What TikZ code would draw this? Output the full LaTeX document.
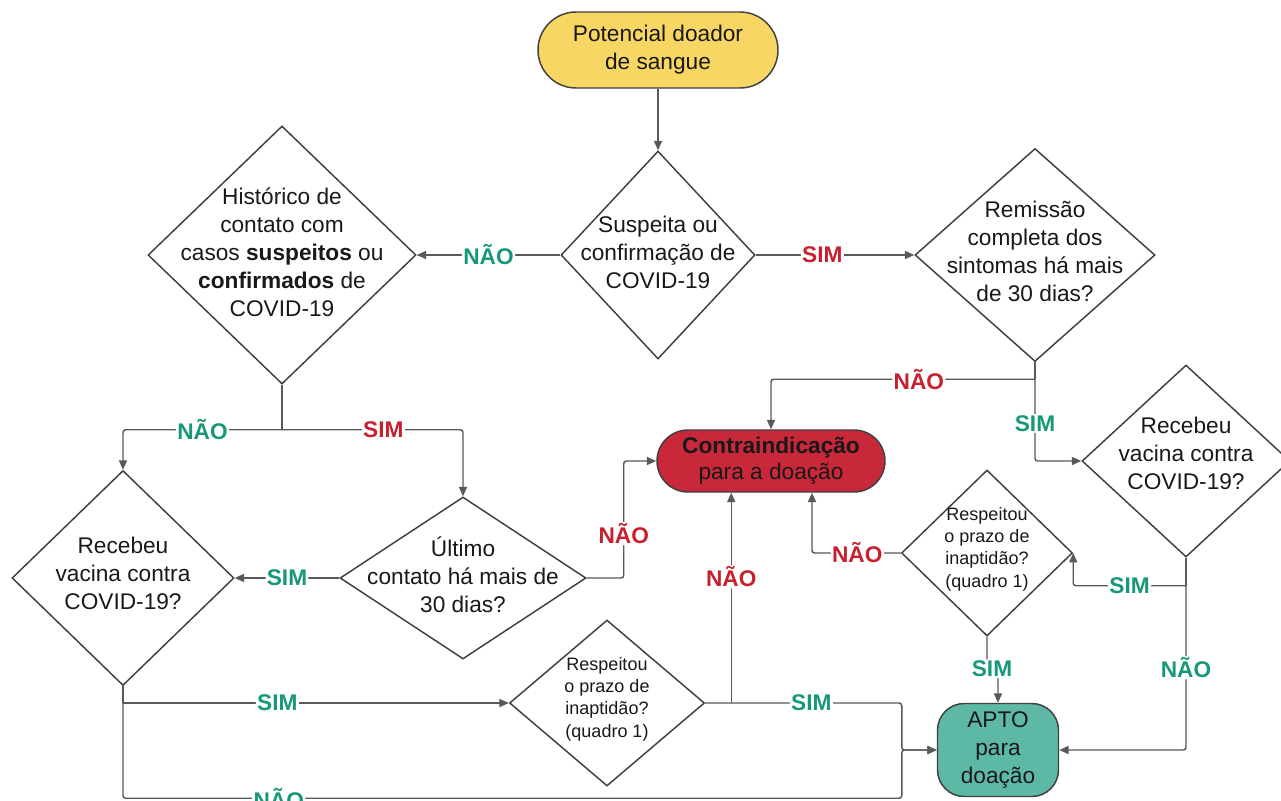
\documentclass[tikz,border=0pt]{standalone}
\usepackage{fontspec}
\setmainfont{Liberation Sans}
\usetikzlibrary{shapes.geometric,arrows.meta,calc}
\definecolor{lc}{HTML}{595959}
\definecolor{bc}{HTML}{404040}
\definecolor{yelf}{HTML}{F8D664}
\definecolor{redf}{HTML}{C8283A}
\definecolor{tealf}{HTML}{5DB9A6}
\definecolor{gtxt}{HTML}{17987A}
\definecolor{rtxt}{HTML}{C8202E}
\begin{document}
\begin{tikzpicture}[x=0.75pt,y=-0.75pt,
  txt/.style={font=\fontsize{17}{21}\selectfont, align=center, text=black!90},
  smalltxt/.style={font=\fontsize{13.5}{16.8}\selectfont, align=center, text=black!90},
  dia/.style={diamond, draw=bc, line width=1.1pt, inner sep=0pt, fill=white},
  term/.style={rectangle, draw=bc, line width=1.1pt, align=center, inner sep=0pt, text=black!90},
  arr/.style={draw=lc, line width=1.1pt, -{Triangle[length=7pt,width=6pt]}, rounded corners=2pt},
  ln/.style={draw=lc, line width=1.1pt, rounded corners=2pt},
  lg/.style={font=\bfseries\fontsize{17}{20}\selectfont, text=gtxt, fill=white, inner sep=1pt},
  lr/.style={font=\bfseries\fontsize{17}{20}\selectfont, text=rtxt, fill=white, inner sep=1pt}]
\useasboundingbox (0,0) rectangle (1281,800);
\fill[white] (0,0) rectangle (1281,800);

% nodes
\node[term, fill=yelf, minimum width=180pt, minimum height=57pt, rounded corners=28.5pt,
      font=\fontsize{17}{21}\selectfont] (start) at (658,50) {Potencial doador\\de sangue};

\node[dia, minimum width=145.5pt, minimum height=156pt] (d1) at (658,255) {};
\node[txt] (d1t) at (658,252) {Suspeita ou\\confirmação de\\COVID-19};

\node[dia, minimum width=201pt, minimum height=193.5pt] (d2) at (282,255) {};
\node[txt] (d2t) at (282,252) {Histórico de\\contato com\\casos \textbf{suspeitos} ou\\\textbf{confirmados} de\\COVID-19};

\node[dia, minimum width=180pt, minimum height=159.75pt] (d3) at (1035,255) {};
\node[txt] (d3t) at (1035,251) {Remissão\\completa dos\\sintomas há mais\\de 30 dias?};

\node[term, fill=redf, minimum width=171pt, minimum height=46.5pt, rounded corners=23.25pt,
      font=\fontsize{17}{19.5}\selectfont] (contra) at (771,461) {\textbf{Contraindicação}\\para a doação};

\node[dia, minimum width=166.5pt, minimum height=161.25pt] (d4) at (123,578) {};
\node[txt] (d4t) at (123,573) {Recebeu\\vacina contra\\COVID-19?};

\node[dia, minimum width=184.5pt, minimum height=121.5pt] (d5) at (463,578) {};
\node[txt] (d5t) at (463,575) {Último\\contato há mais de\\30 dias?};

\node[dia, minimum width=146.25pt, minimum height=124.5pt] (d6) at (607,703) {};
\node[smalltxt] (d6t) at (607,699) {Respeitou\\o prazo de\\inaptidão?\\(quadro 1)};

\node[dia, minimum width=156pt, minimum height=144pt] (d7) at (1186,461) {};
\node[txt] (d7t) at (1186,453) {Recebeu\\vacina contra\\COVID-19?};

\node[dia, minimum width=128.25pt, minimum height=124.5pt] (d8) at (987,553) {};
\node[smalltxt] (d8t) at (987,549) {Respeitou\\o prazo de\\inaptidão?\\(quadro 1)};

\node[term, fill=tealf, minimum width=90.75pt, minimum height=69.75pt, rounded corners=20pt,
      font=\fontsize{17}{21}\selectfont] (apto) at (998,750) {APTO\\para\\doação};

% connectors
\draw[arr] (start.south) -- (d1.north);
\draw[arr] (d1.west) -- node[lg]{NÃO} (d2.east);
\draw[arr] (d1.east) -- node[lr,pos=0.42]{SIM} (d3.west);

\coordinate (j1) at ($(d3.south)+(0,17)$);
\draw[ln] (d3.south) -- (j1);
\draw[arr] (j1) -| node[lr,pos=0.22]{NÃO} (contra.north);
\draw[arr] (j1) |- node[lg,pos=0.27]{SIM} (d7.west);

\coordinate (j2) at ($(d2.south)+(0,45)$);
\draw[ln] (d2.south) -- (j2);
\draw[arr] (j2) -| node[lg,pos=0.25]{NÃO} (d4.north);
\draw[arr] (j2) -| node[lr,pos=0.28]{SIM} (d5.north);

\draw[arr] (d5.west) -- node[lg]{SIM} (d4.east);
\draw[arr] (d5.east) -- ++(37,0) |- node[lr,pos=0.19]{NÃO} (contra.west);

\coordinate (j4) at (d4.south |- d6.west);
\coordinate (j5) at ($(d4.south)+(0,112)$);
\coordinate (m) at ($(apto.west)+(-35,0)$);
\draw[ln] (d4.south) -- (j4);
\draw[arr] (j4) -- node[lg,pos=0.4]{SIM} (d6.west);
\draw[arr] (j4) -- (j5) -| node[lg,pos=0.1]{NÃO} (m) -- (apto.west);

\draw[arr] (d6.east) -| node[lg,pos=0.27]{SIM} (m) -- (apto.west);
\coordinate (j8) at ($(d6.east)+(26,0)$);
\draw[arr] (j8) -- node[lr,pos=0.6]{NÃO} (j8 |- contra.south);

\draw[arr] (d8.west) -| node[lr,pos=0.245]{NÃO} ($(contra.south)+(41,0)$);
\draw[arr] (d8.south) -- ++(0,32) node[lg,xshift=3.75pt]{SIM} -| (apto.north);

\coordinate (j10) at ($(d7.south)+(0,28)$);
\draw[ln] (d7.south) -- (j10);
\draw[arr] (j10) -| node[lg,pos=0.25]{SIM} (d8.east);
\draw[arr] (j10) |- node[lg,pos=0.25]{NÃO} (apto.east);
\end{tikzpicture}
\end{document}
